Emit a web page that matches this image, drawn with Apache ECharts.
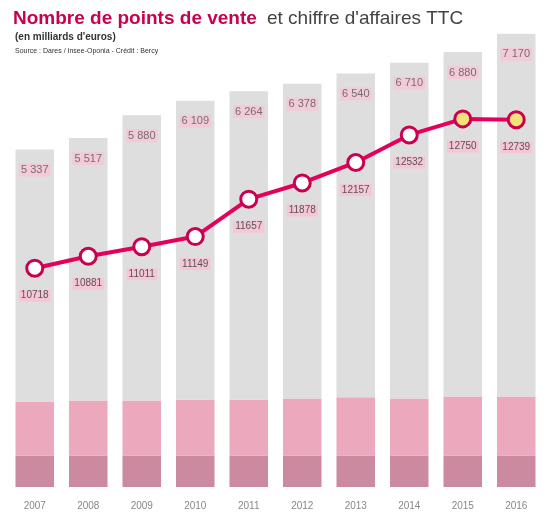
<!DOCTYPE html><html><head><meta charset="utf-8"><script src="https://cdn.jsdelivr.net/npm/echarts@6/dist/echarts.min.js"></script></head><body style="margin:0;background:#fff"><div id="c" style="width:553px;height:521px"></div><script>
const years=['2007','2008','2009','2010','2011','2012','2013','2014','2015','2016'];
const caTotal=[5.34,5.52,5.88,6.11,6.26,6.38,6.54,6.71,6.88,7.17];
const caLabels=['5 337','5 517','5 880','6 109','6 264','6 378','6 540','6 710','6 880','7 170'];
const darkPart=[0.5,0.5,0.5,0.5,0.5,0.5,0.5,0.5,0.5,0.5];
const pinkPart=[0.85,0.87,0.87,0.88,0.88,0.9,0.92,0.9,0.93,0.93];
const points=[10718,10881,11011,11149,11657,11878,12157,12532,12750,12739];
const grayPart=caTotal.map((v,i)=>+(v-darkPart[i]-pinkPart[i]).toFixed(2));
const ch=echarts.init(document.getElementById('c'));
ch.setOption({
 animation:false,
 title:[{text:'Nombre de points de vente',left:8,top:4,textStyle:{fontFamily:'Liberation Sans',fontSize:19,fontWeight:'bold',color:'#c8004f'}},
  {text:"et chiffre d'affaires TTC",left:262,top:4,textStyle:{fontFamily:'Liberation Sans',fontSize:19,fontWeight:'normal',color:'#444'}},
  {text:"(en milliards d'euros)",left:10,top:27,textStyle:{fontFamily:'Liberation Sans',fontSize:10,fontWeight:'bold',color:'#333'}},
  {text:'Source : Dares / Insee-Oponia - Crédit : Bercy',left:10,top:43,textStyle:{fontFamily:'Liberation Sans',fontSize:7,fontWeight:'normal',color:'#333'}}],
 grid:{left:8,right:10,top:30,bottom:34},
 xAxis:{type:'category',data:years,axisLine:{show:false},axisTick:{show:false},axisLabel:{color:'#888',fontSize:10,margin:14}},
 yAxis:[{type:'value',min:0,max:7.23,show:false},{type:'value',min:7740,max:13960,show:false}],
 series:[
  {type:'bar',stack:'a',data:darkPart,barWidth:'72%',itemStyle:{color:'#cc8aa0'}},
  {type:'bar',stack:'a',data:pinkPart,itemStyle:{color:'#eca8bd'}},
  {type:'bar',stack:'a',data:grayPart,itemStyle:{color:'#dedede'}},
  {type:'line',yAxisIndex:1,data:points.map((v,i)=>i>=8?{value:v,itemStyle:{color:'#f2e27a'}}:v),symbol:'circle',symbolSize:16,
   lineStyle:{color:'#e4005a',width:4},itemStyle:{color:'#fff',borderColor:'#c8004f',borderWidth:3},
   label:{show:true,position:'bottom',distance:12,color:'#555',fontSize:10,backgroundColor:'#f7c6d6',padding:[1,2]},z:5},
  {type:'scatter',data:caTotal,symbolSize:0,silent:true,
   label:{show:true,position:'bottom',distance:14,formatter:p=>caLabels[p.dataIndex],color:'#555',fontSize:11,backgroundColor:'#f7c6d6',padding:[1,2]}}
 ]});
</script></body></html>
